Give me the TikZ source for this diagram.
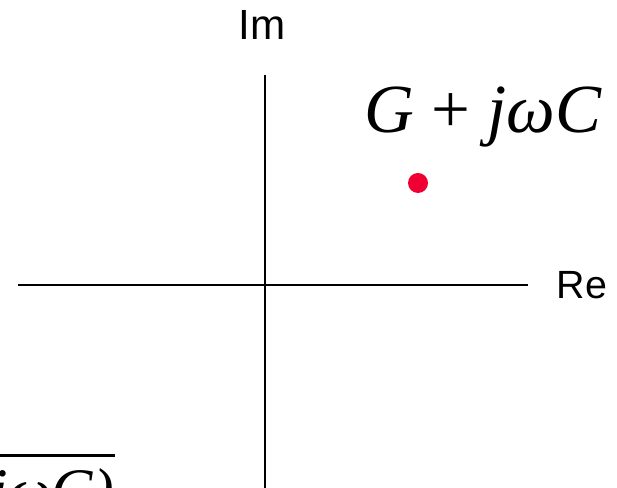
\documentclass[tikz,border=0pt]{standalone}
\usepackage{fontspec}
\newfontfamily\sansfnt{Liberation Sans}
\newfontfamily\seriffnt{Liberation Serif}
\definecolor{dotred}{RGB}{240,0,50}

\begin{document}
\begin{tikzpicture}[x=0.025cm,y=0.025cm,font=\sansfnt\fontsize{30}{34}\selectfont]
 \useasboundingbox (0,0) rectangle (617,487);
 \coordinate (reL) at (18,202);\coordinate (reR) at (528,202);
 \coordinate (imB) at (265,-5);\coordinate (imT) at (265,412);
 \draw[line width=1.4pt] (reL)--(reR) (imB)--(imT);
 \node (im) at (262,462) {Im};
 \node[anchor=west,font=\sansfnt\fontsize{28}{32}\selectfont] (re) at (552,202) {Re};
 \node[anchor=base west,inner sep=0pt,font=\seriffnt\fontsize{49}{54}\selectfont] (adm) at (364,354)
  {\itshape G {\upshape +} jωC};
 \node[circle,fill=dotred,inner sep=0pt,minimum size=0.5cm] (pt) at (418,304) {};
 \node[anchor=base east,inner sep=0pt,font=\seriffnt\fontsize{44}{48}\selectfont] (gam) at (114,-24)
  {\itshape (R + jωL)(G + jωC)};
 \draw[line width=2pt] ([yshift=9pt]gam.north west) -- ([xshift=1pt,yshift=9pt]gam.north east);
\end{tikzpicture}
\end{document}
